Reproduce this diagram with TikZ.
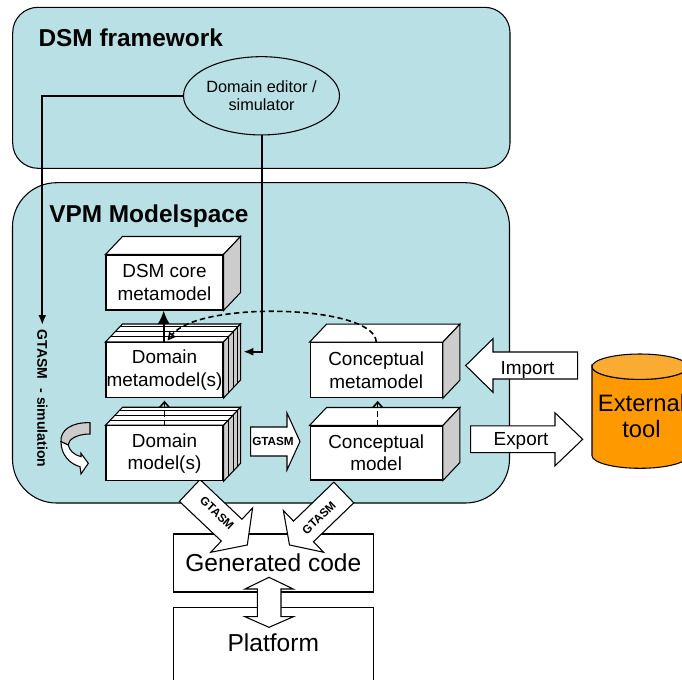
\documentclass[tikz,border=0pt]{standalone}
\usepackage{fontspec}
\setmainfont{Liberation Sans}
\usetikzlibrary{arrows.meta,calc,shapes.geometric}
\definecolor{vpmblue}{RGB}{185,224,228}
\definecolor{sidegray}{RGB}{204,204,204}
\definecolor{cylorange}{RGB}{255,153,0}
\definecolor{cyltop}{RGB}{250,172,50}

\tikzset{
  boxline/.style={draw=black, line width=0.8pt},
  frontface/.style={boxline, fill=white, inner sep=0pt, align=center, font=\fontsize{14.2}{16.7}\selectfont},
  conn/.style={line width=1.5pt, -{Latex[length=7.5pt,width=6pt]}},
  dashconn/.style={line width=1.2pt, dash pattern=on 4pt off 2.5pt},
  titletext/.style={font=\bfseries\fontsize{18.3}{22}\selectfont, inner sep=0pt},
  lbl/.style={font=\fontsize{14.2}{16.7}\selectfont, inner sep=0pt},
  gt/.style={font=\bfseries\fontsize{8.8}{10}\selectfont, inner sep=0pt},
  bigtext/.style={font=\fontsize{18.4}{22}\selectfont, inner sep=0pt},
}

% faces of a 3D box whose front face is node #1
\newcommand{\boxfaces}[1]{%
  \draw[boxline, fill=white] (#1.north west) -- ++(17,-18) -- ($(#1.north east)+(17,-18)$) -- (#1.north east) -- cycle;
  \draw[boxline, fill=sidegray] (#1.north east) -- ++(17,-18) -- ($(#1.south east)+(17,-18)$) -- (#1.south east) -- cycle;
}
% slab lines for a stacked 3D box
\newcommand{\slablines}[1]{%
  \foreach \f in {0.28,0.56,0.84}{%
    \draw[boxline] ($(#1.north west)+\f*(17,-18)$) -- ($(#1.north east)+\f*(17,-18)$) -- ($(#1.south east)+\f*(17,-18)$);
  }%
}
% block arrow: tail mid x, y, angle, length, shaft width, head width, head length
\newcommand{\blockarr}[7]{%
  \begin{scope}[shift={(#1,#2)}, rotate=#3]
    \draw[boxline, fill=white] (0,-#5/2) -- (#4-#7,-#5/2) -- (#4-#7,-#6/2) -- (#4,0) -- (#4-#7,#6/2) -- (#4-#7,#5/2) -- (0,#5/2) -- cycle;
  \end{scope}%
}

\begin{document}
\begin{tikzpicture}[x=0.75pt,y=-0.75pt]
\useasboundingbox (0,0) rectangle (682,679);

% containers
\draw[boxline, fill=vpmblue, rounded corners=19pt] (12.7,7.3) rectangle (510,168.3);
\draw[boxline, fill=vpmblue, rounded corners=33pt] (12.5,182.7) rectangle (509.5,503);
\node[titletext, anchor=base west] (dsmtitle) at (38.3,46.7) {DSM framework};
\node[titletext, anchor=base west] (vpmtitle) at (49,222) {VPM Modelspace};
\node[boxline, ellipse, fill=vpmblue, minimum width=106.3pt, minimum height=58.7pt, inner sep=0pt, align=center, font=\fontsize{12.2}{13.8}\selectfont] (ed) at (261.5,95.8) {Domain editor /\\simulator};

% lower boxes
\node[boxline, fill=white, minimum width=150pt, minimum height=43.5pt, bigtext] (gen) at (273.3,563) {Generated code};
\begin{scope}
  \clip (0,0) rectangle (682,679);
  \draw[boxline, fill=white] (173.3,607.5) rectangle (373.3,700);
  % external tool cylinder
  \draw[boxline, fill=cylorange] (592,366.7) -- (592,455.6) arc[start angle=180, end angle=0, x radius=48, y radius=12.7] -- (688,366.7) arc[start angle=0, end angle=180, x radius=48, y radius=12.7] -- cycle;
  \draw[boxline, fill=cyltop] (640,366.7) ellipse [x radius=48, y radius=12.7];
  \node[align=center, font=\fontsize{17.8}{18.8}\selectfont, inner sep=0pt] (ext) at (641.5,416) {External\\tool};
\end{scope}
\node[bigtext] (plat) at (273.3,643) {Platform};

% diagonal GTASM arrows
\blockarr{189.7}{490.5}{-43.4}{79.3}{30}{61}{21.6}
\blockarr{343.8}{492.5}{-136}{75.5}{28.7}{58}{19.5}
\node[gt, rotate=-43.4] (gtl) at (217,513) {GTASM};
\node[gt, rotate=44] (gtr) at (319,518) {GTASM};

% double arrow between generated code and platform
\draw[boxline, fill=white] (269,577.3) -- (293.3,589) -- (281,589) -- (281,616.7) -- (293.3,616.7) -- (269,627.3) -- (245,616.7) -- (257.3,616.7) -- (257.3,589) -- (245,589) -- cycle;

% 3D boxes
\node[frontface, minimum width=87.75pt, minimum height=41.25pt] (core) at (164.5,282.5) {DSM core\\metamodel};
\boxfaces{core}
\node[frontface, minimum width=87.75pt, minimum height=41.25pt] (dmm) at (164.5,370) {Domain\\metamodel(s)};
\boxfaces{dmm}
\slablines{dmm}
\node[frontface, minimum width=87.75pt, minimum height=41.25pt] (dm) at (164.5,453.3) {Domain\\model(s)};
\boxfaces{dm}
\slablines{dm}
\node[frontface, minimum width=99.2pt, minimum height=41.25pt] (cmm) at (376.2,370.2) {Conceptual\\metamodel};
\boxfaces{cmm}
\node[frontface, minimum width=99.2pt, minimum height=40.5pt] (cm) at (376.2,453) {Conceptual\\model};
\boxfaces{cm}

% horizontal GTASM arrow
\blockarr{250.7}{441.5}{0}{49.3}{29}{57}{13}
\node[gt] (gth) at (273,441.5) {GTASM};

% import / export
\blockarr{577.7}{365.5}{180}{112}{27}{53.7}{27.3}
\node[lbl, anchor=base] (imp) at (527.5,374) {Import};
\blockarr{470.7}{439.3}{0}{112}{26.7}{53}{27.7}
\node[lbl, anchor=base] (expt) at (521,445.5) {Export};

% connectors
\coordinate (simtip) at (42.3,325);
\coordinate (dmmin) at (243.3,351.7);
\coordinate (dmmtop) at (167.5,340.5);
\draw[conn] (ed.west) -| (simtip);
\draw[conn] (ed.south) |- (dmmin);
\draw[line width=1.5pt, -{Latex[length=10pt,width=9pt]}] ([xshift=-0.6pt]dmm.north) -- ([xshift=-0.6pt]core.south);
\draw[dashconn, -{Straight Barb[length=4pt,width=7pt]}] (dm.north) -- ([yshift=-2pt]dmm.south);
\draw[dashconn, -{Straight Barb[length=4pt,width=7pt]}] ([xshift=1.1pt]cm.north) -- ([xshift=1.1pt,yshift=-2pt]cmm.south);
\draw[dashconn, -{Triangle[open, length=6pt, width=6pt]}] (cmm.north) .. controls (376,305) and (200,300) .. (dmmtop);

% simulation label and curved arrow
\node[font=\bfseries\fontsize{10.5}{12}\selectfont, inner sep=0pt, rotate=-90] (simlbl) at (42.5,398.5) {GTASM\hspace{7pt}- simulation};
\draw[boxline, fill=sidegray] (90,422.7) .. controls (72,422) and (60,430) .. (61,441.7) -- (68.3,445) .. controls (68,440) and (76,434) .. (90,434) -- cycle;
\draw[boxline, fill=white] (61,441.7) .. controls (61,455) and (70,464) .. (80,466.7) -- (81,474) -- (88.3,463.3) -- (81,453.3) -- (81,456.7) .. controls (74,455) and (69,450) .. (68.3,445) -- cycle;

\end{tikzpicture}
\end{document}
